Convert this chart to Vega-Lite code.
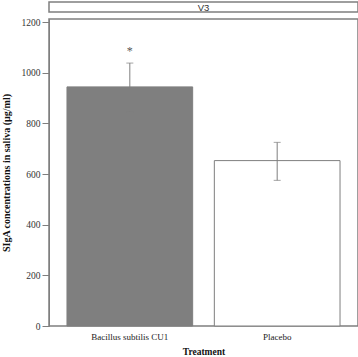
{
  "$schema": "https://vega.github.io/schema/vega-lite/v6.json",
  "padding": {"left": 0, "top": 1, "right": 0, "bottom": 0},
  "autosize": {"type": "pad"},
  "spacing": 2,
  "config": {
    "font": "Liberation Serif",
    "view": {"stroke": "#7f7f7f", "strokeWidth": 1.5}
  },
  "datasets": {
    "main": [
      {"Treatment": "Bacillus subtilis CU1", "Mean": 944, "Lower": 845, "Upper": 1038, "Sig": "*", "SigPos": 1092},
      {"Treatment": "Placebo", "Mean": 653, "Lower": 575, "Upper": 725, "Sig": "", "SigPos": 760}
    ],
    "panel": [{"Visit": "V3"}]
  },
  "vconcat": [
    {
      "width": 309,
      "height": 10,
      "view": {"stroke": "#7f7f7f", "strokeWidth": 1.5, "fill": "white"},
      "data": {"name": "panel"},
      "mark": {"type": "text", "font": "Liberation Sans", "fontSize": 9.5, "color": "#333", "dy": 1},
      "encoding": {"text": {"field": "Visit"}}
    },
    {
      "width": 309,
      "height": 307,
      "view": {"stroke": "#7f7f7f", "strokeWidth": 1.5},
      "data": {"name": "main"},
      "encoding": {
        "x": {
          "field": "Treatment", "type": "nominal", "sort": null,
          "scale": {"paddingInner": 0.147, "paddingOuter": 0.122},
          "axis": {"labelAngle": 0, "ticks": false, "domain": false, "labelFont": "Liberation Serif", "labelFontSize": 9, "labelColor": "#222", "labelPadding": 6, "title": "Treatment", "titleFont": "Liberation Serif", "titleFontSize": 9.5, "titleFontWeight": "bold", "titlePadding": 5, "titleColor": "#111"}
        }
      },
      "layer": [
        {
          "mark": {"type": "bar", "stroke": "#7f7f7f", "strokeWidth": 1},
          "encoding": {
            "y": {
              "field": "Mean", "type": "quantitative",
              "scale": {"domain": [0, 1212], "nice": false},
              "axis": {"values": [0, 200, 400, 600, 800, 1000, 1200], "format": "d", "grid": false, "tickSize": 7, "tickColor": "#7f7f7f", "domainColor": "#7f7f7f", "labelFont": "Liberation Serif", "labelFontSize": 9.5, "labelColor": "#333", "labelPadding": 2, "title": "SIgA concentrations in saliva (µg/ml)", "titleFont": "Liberation Serif", "titleFontSize": 10, "titleFontWeight": "bold", "titleColor": "#111", "titlePadding": 10}
            },
            "fill": {
              "field": "Treatment", "type": "nominal", "legend": null,
              "scale": {"domain": ["Bacillus subtilis CU1", "Placebo"], "range": ["#7f7f7f", "#ffffff"]}
            }
          }
        },
        {
          "mark": {"type": "rule", "color": "#7f7f7f", "strokeWidth": 1},
          "encoding": {
            "y": {"field": "Lower", "type": "quantitative"},
            "y2": {"field": "Upper"}
          }
        },
        {
          "mark": {"type": "tick", "color": "#7f7f7f", "size": 7, "thickness": 1},
          "encoding": {
            "y": {"field": "Lower", "type": "quantitative"}
          }
        },
        {
          "mark": {"type": "tick", "color": "#7f7f7f", "size": 7, "thickness": 1},
          "encoding": {
            "y": {"field": "Upper", "type": "quantitative"}
          }
        },
        {
          "mark": {"type": "text", "fontSize": 12, "color": "#555", "baseline": "middle", "dy": 2},
          "encoding": {
            "y": {"field": "SigPos", "type": "quantitative"},
            "text": {"field": "Sig"}
          }
        }
      ]
    }
  ]
}
